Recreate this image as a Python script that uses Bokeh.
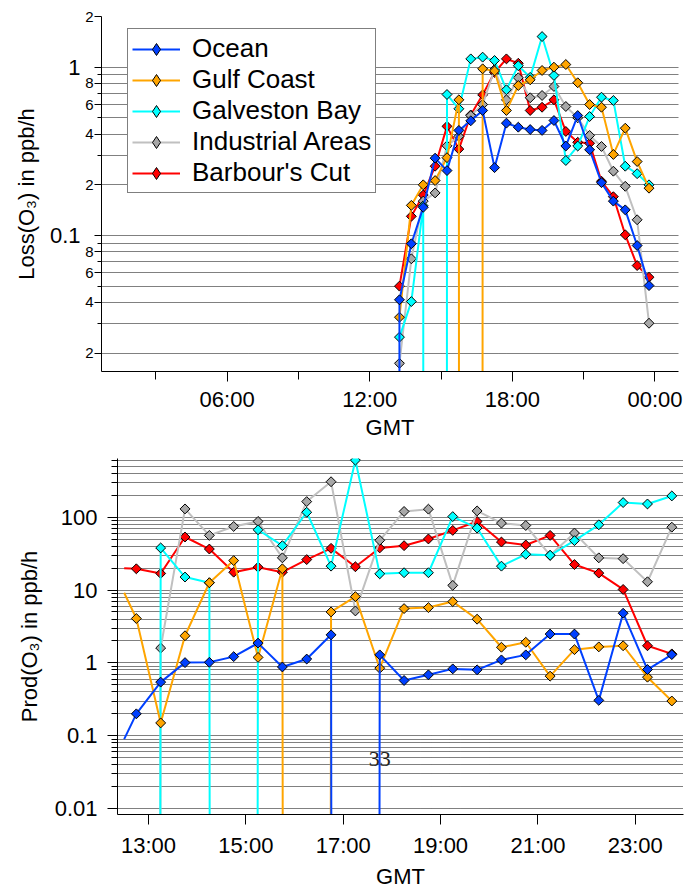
import numpy as np
from bokeh.plotting import figure
from bokeh.models import Range1d, FixedTicker, LogAxis, Legend, LegendItem, ColumnDataSource
from bokeh.layouts import column
from bokeh.embed import file_html
from bokeh.resources import INLINE
from bokeh.core.properties import value

# ---------------- data ----------------
series_names = ["Ocean", "Gulf Coast", "Galveston Bay", "Industrial Areas", "Barbour's Cut"]
line_colors = ["#0040FF", "#FFA500", "#00FFFF", "#C0C0C0", "#FF0000"]
marker_colors = ["#0040FF", "#FFA500", "#00FFFF", "#A8A8A8", "#FF0000"]

nan = float("nan")

# Loss(O3) panel, GMT hours (0 = non-positive value, nan = no data)
loss_time = [12.75, 13.25, 13.75, 14.25, 14.75, 15.25, 15.75, 16.25, 16.75, 17.25, 17.75, 18.25,
             18.75, 19.25, 19.75, 20.25, 20.75, 21.25, 21.75, 22.25, 22.75, 23.25, 23.75]
loss_ocean = [0, 0.0415, 0.0893, 0.147, 0.288, 0.243, 0.421, 0.48, 0.553, 0.253, 0.465, 0.44,
              0.426, 0.421, 0.482, 0.340, 0.516, 0.323, 0.206, 0.160, 0.142, 0.0872, 0.0504]
loss_gulf = [nan, 0.0327, 0.151, 0.200, 0.212, 0.29, 0.640, 0, 0.978, 0.95, 0.553, 0.778,
             0.841, 0.956, 1.0, 1.037, 0.808, 0.600, 0.578, 0.303, 0.434, 0.275, 0.191]
loss_galveston = [nan, 0.0249, 0.0405, 0.15, 0, 0.688, 0.566, 1.12, 1.147, 1.096, 0.734, 1.02,
                  0.87, 1.52, 0.893, 0.279, 0.340, 0.509, 0.663, 0.634, 0.258, 0.233, 0.200]
loss_industrial = [nan, 0.0174, 0.0727, 0.16, 0.179, 0.341, 0.388, 0.516, 0.60, 0.969, 0.640, 0.865,
                   0.658, 0.679, 0.768, 0.584, 0.50, 0.393, 0.338, 0.241, 0.196, 0.124, 0.0301]
loss_barbour = [nan, 0.050, 0.130, 0.174, 0.258, 0.445, 0.326, 0.52, 0.685, 0.93, 1.12, 1.055,
                0.553, 0.578, 0.640, 0.415, 0.358, 0.353, 0.21, 0.170, 0.101, 0.0663, 0.0565]

# Prod(O3) panel (first sample is a lead-in point drawn without a marker)
prod_time = [12.5, 12.75, 13.25, 13.75, 14.25, 14.75, 15.25, 15.75, 16.25, 16.75, 17.25, 17.75,
             18.25, 18.75, 19.25, 19.75, 20.25, 20.75, 21.25, 21.75, 22.25, 22.75, 23.25, 23.75]
prod_ocean = [0.09, 0.20, 0.545, 1.01, 1.02, 1.22, 1.87, 0.88, 1.13, 2.43, 0, 1.29,
              0.574, 0.686, 0.828, 0.803, 1.10, 1.29, 2.49, 2.49, 0.306, 4.81, 0.811, 1.30]
prod_gulf = [9.2, 4.07, 0.150, 2.36, 12.6, 25.4, 1.19, 19.6, 0, 5.01, 8.13, 0.846,
             5.57, 5.75, 6.95, 3.98, 1.64, 1.92, 0.658, 1.52, 1.66, 1.72, 0.637, 0.300]
prod_galveston = [nan, 0, 37.9, 15.1, 12.6, 0, 67.3, 40.7, 117, 21.3, 607, 16.7,
                  17.3, 17.3, 102, 71, 21.3, 31, 30, 47.7, 78.7, 159, 152, 196]
prod_industrial = [nan, 0, 1.60, 130, 56.3, 74.7, 87.5, 27.7, 164, 307, 5.17, 48.2,
                   120, 129, 11.6, 122, 83, 77, 30, 60.7, 27.7, 27, 13, 73]
prod_barbour = [20, 19.6, 16.9, 53.5, 36.6, 17.6, 20.6, 17.6, 26.2, 37.4, 20.9, 37.9,
                40.7, 50.3, 65.9, 87.5, 45.7, 41.6, 56.3, 22.4, 17.1, 10.2, 1.72, 1.33]
prod_first_marker = 1

note_x = [17.75]
note_y = [0.0475]
note_text = ["33"]

# ticks
top_x_ticks = [6, 12, 18, 24]
top_x_labels = ["06:00", "12:00", "18:00", "00:00"]
top_x_minor = [3, 9, 15, 21]
top_y_small_ticks = [0.02, 0.04, 0.06, 0.08, 0.2, 0.4, 0.6, 0.8, 2]
top_y_small_labels = ["2", "4", "6", "8", "2", "4", "6", "8", "2"]
top_y_big_ticks = [0.1, 1]
top_y_big_labels = ["0.1", "1"]
top_y_minor = [0.03, 0.05, 0.07, 0.09, 0.3, 0.5, 0.7, 0.9]

bot_x_ticks = [13, 15, 17, 19, 21, 23]
bot_x_labels = ["13:00", "15:00", "17:00", "19:00", "21:00", "23:00"]
bot_y_ticks = [0.01, 0.1, 1, 10, 100]
bot_y_labels = ["0.01", "0.1", "1", "10", "100"]

FONT = "Liberation Sans"
NONPOS_FLOOR = 1e-250  # non-positive values drop to -inf on the log axis


def line_vals(v):
    v = np.asarray(v, dtype=float)
    return np.where(np.isnan(v), np.nan, np.where(v > 0, v, NONPOS_FLOOR))


def marker_vals(v):
    v = np.asarray(v, dtype=float)
    return np.where(v > 0, v, np.nan)


def decade_grid(lo_exp, hi_exp, vmax):
    vals = []
    for e in range(lo_exp, hi_exp + 1):
        for m in range(1, 10):
            v = m * 10.0 ** e
            if v <= vmax * 1.0001:
                vals.append(round(v, 6))
    return vals


def base_fig(h, xr, yr, bl, br, bt, bb):
    p = figure(width=695, height=h, x_range=Range1d(*xr), y_range=Range1d(*yr),
               y_axis_type="log", output_backend="svg", toolbar_location=None,
               min_border_left=bl, min_border_right=br, min_border_top=bt, min_border_bottom=bb)
    p.frame_align = False
    p.outline_line_color = None
    p.xgrid.visible = False
    p.ygrid.grid_line_color = "black"
    p.ygrid.grid_line_dash = "1 1"
    p.ygrid.grid_line_width = 1
    return p


def style_axis(ax, size):
    ax.axis_line_color = "black"
    ax.axis_line_width = 1
    ax.major_tick_line_color = "black"
    ax.minor_tick_line_color = "black"
    ax.major_tick_in = 0
    ax.minor_tick_in = 0
    ax.major_label_text_font = FONT
    ax.major_label_text_font_size = size
    ax.major_label_text_color = "black"
    ax.axis_label_text_font = FONT
    ax.axis_label_text_font_size = "22px"
    ax.axis_label_text_font_style = "normal"
    ax.axis_label_text_color = "black"


def draw_series(p, t, values, first_marker=0):
    line_r, mark_r = {}, {}
    order = [4, 3, 2, 1, 0]  # Barbour's Cut at the bottom, Ocean on top
    for i in order:
        name = series_names[i]
        v = values[i]
        ls = ColumnDataSource(dict(x=t, y=line_vals(v)))
        ms = ColumnDataSource(dict(x=t[first_marker:], y=marker_vals(v)[first_marker:]))
        line_r[name] = p.line("x", "y", source=ls, line_color=line_colors[i], line_width=2)
        mark_r[name] = p.scatter("x", "y", source=ms, marker="square", angle=np.pi / 4, size=7,
                                 fill_color=marker_colors[i], line_color="black", line_width=1)
    return line_r, mark_r


# ---------------- top panel: Loss(O3) ----------------
p1 = base_fig(445, (0.714, 24.99), (0.01556, 2.0), 101, 17, 16, 74)
p1.ygrid.ticker = FixedTicker(ticks=decade_grid(-2, 0, 2.0))

xa = p1.xaxis[0]
style_axis(xa, "22px")
xa.ticker = FixedTicker(ticks=top_x_ticks, minor_ticks=top_x_minor)
xa.major_label_overrides = dict(zip(top_x_ticks, top_x_labels))
xa.major_tick_out = 10
xa.minor_tick_out = 8
xa.major_label_standoff = 5
xa.axis_label = "GMT"
xa.axis_label_standoff = 0

ya = p1.yaxis[0]
style_axis(ya, "15px")
ya.ticker = FixedTicker(ticks=top_y_small_ticks + top_y_big_ticks, minor_ticks=top_y_minor)
ov = dict(zip(top_y_small_ticks, top_y_small_labels))
ov.update({t: "" for t in top_y_big_ticks})
ya.major_label_overrides = ov
ya.major_tick_out = 7
ya.minor_tick_out = 4
ya.major_label_standoff = 1

ya2 = LogAxis(ticker=FixedTicker(ticks=top_y_big_ticks, minor_ticks=[]))
style_axis(ya2, "22px")
ya2.major_label_overrides = dict(zip(top_y_big_ticks, top_y_big_labels))
ya2.axis_line_color = None
ya2.major_tick_line_color = None
ya2.minor_tick_line_color = None
ya2.major_tick_out = 0
ya2.minor_tick_out = 0
ya2.major_label_standoff = 2
ya2.axis_label = "Loss(O\u2083) in ppb/h"
ya2.axis_label_standoff = 8
p1.add_layout(ya2, "left")

loss_vals = [loss_ocean, loss_gulf, loss_galveston, loss_industrial, loss_barbour]
lr, mr = draw_series(p1, np.asarray(loss_time, dtype=float), loss_vals)

# legend-only diamond markers (legend glyphs are drawn unrotated); no visible point
legend_marks = {}
for i, n in enumerate(series_names):
    legend_marks[n] = p1.scatter(x=[nan], y=[nan], marker="diamond", size=10,
                                 fill_color=marker_colors[i], line_color="black", line_width=1)

legend = Legend(items=[LegendItem(label=n, renderers=[lr[n], legend_marks[n]]) for n in series_names],
                location=(26, 178))
legend.label_text_font = FONT
legend.label_text_font_size = "26px"
legend.label_text_color = "black"
legend.glyph_width = 48
legend.glyph_height = 30
legend.label_height = 30
legend.label_standoff = 12
legend.spacing = 0
legend.padding = 4
legend.margin = 0
legend.border_line_color = "black"
legend.border_line_width = 1
legend.background_fill_color = "white"
legend.background_fill_alpha = 1.0
p1.add_layout(legend)

# ---------------- bottom panel: Prod(O3) ----------------
p2 = base_fig(446, (12.363, 23.99), (0.0083, 640), 117, 12, 13, 75)
p2.ygrid.ticker = FixedTicker(ticks=decade_grid(-2, 2, 640))

xb = p2.xaxis[0]
style_axis(xb, "22px")
xb.ticker = FixedTicker(ticks=bot_x_ticks, minor_ticks=[])
xb.major_label_overrides = dict(zip(bot_x_ticks, bot_x_labels))
xb.major_tick_out = 10
xb.minor_tick_out = 0
xb.major_label_standoff = 8
xb.axis_label = "GMT"
xb.axis_label_standoff = 3

yb = p2.yaxis[0]
style_axis(yb, "22px")
yb.ticker = FixedTicker(ticks=bot_y_ticks,
                        minor_ticks=[v for v in decade_grid(-2, 2, 640) if v not in bot_y_ticks])
yb.major_label_overrides = dict(zip(bot_y_ticks, bot_y_labels))
yb.major_tick_out = 10
yb.minor_tick_out = 6
yb.major_label_standoff = 10
yb.axis_label = "Prod(O\u2083) in ppb/h"
yb.axis_label_standoff = 10

prod_vals = [prod_ocean, prod_gulf, prod_galveston, prod_industrial, prod_barbour]
draw_series(p2, np.asarray(prod_time, dtype=float), prod_vals, first_marker=prod_first_marker)

p2.text(x=note_x, y=note_y, text=note_text, text_font=value("Liberation Serif"),
        text_font_size="22px", text_align="center", text_baseline="middle", text_color="#222222")

layout = column(p1, p2, spacing=0)
open("out.html", "w").write(file_html(layout, INLINE))
